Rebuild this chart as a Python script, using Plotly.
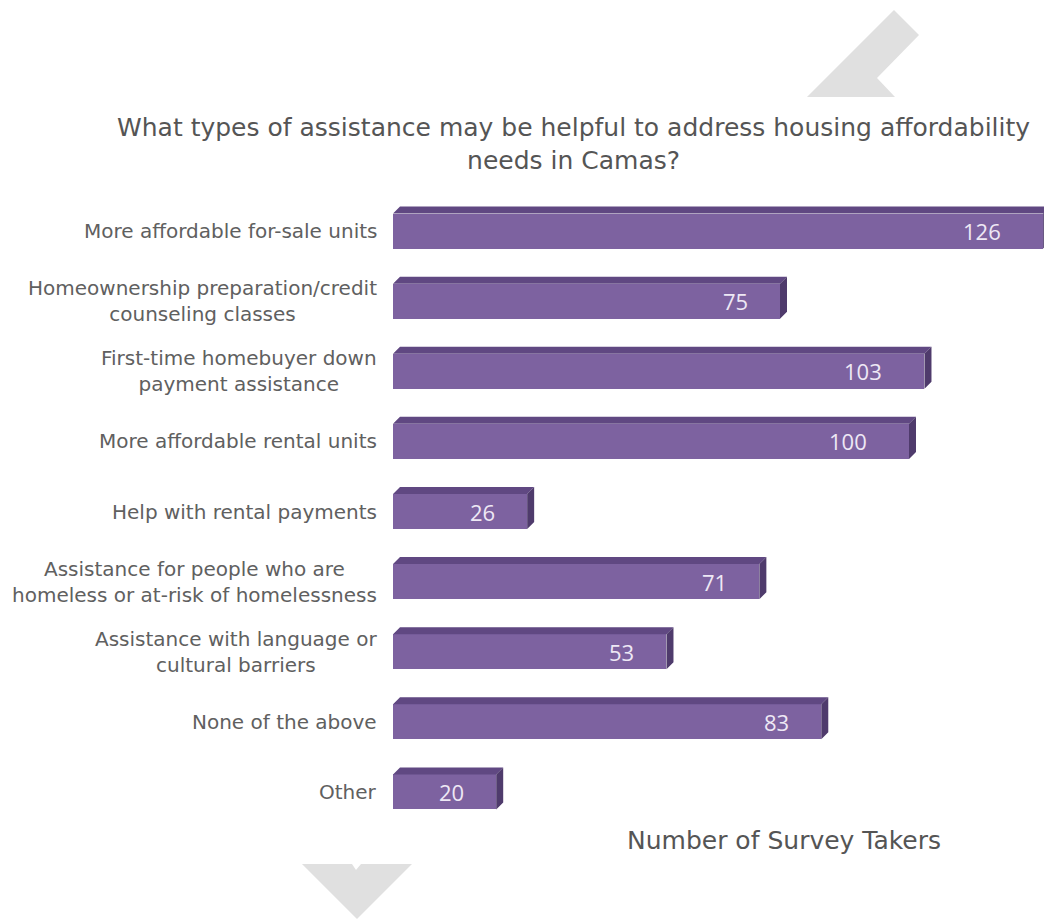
import plotly.graph_objects as go

categories = [
    "More affordable for-sale units",
    "Homeownership preparation/credit<br>counseling classes",
    "First-time homebuyer down<br>payment assistance",
    "More affordable rental units",
    "Help with rental payments",
    "Assistance for people who are<br>homeless or at-risk of homelessness",
    "Assistance with language or<br>cultural barriers",
    "None of the above",
    "Other",
]
values = [126, 75, 103, 100, 26, 71, 53, 83, 20]
title_text = "What types of assistance may be helpful to address housing affordability<br>needs in Camas?"
xaxis_title = "Number of Survey Takers"

OFF = 8  # page body margin offset
W, H = 1052 - OFF, 919 - OFF
ML, MR, MT, MB = 393 - OFF, 0, 189 - OFF, 85
PW, PH = W - ML - MR, H - MT - MB
XMAX = PW / 5.16
n = len(categories)
YR = [n - 0.4, -0.6]

FRONT = "#7d62a0"
TOP = "#604882"
SIDE = "#4f3b6c"
FONT = "DejaVu Sans"
NUMFONT = "Open Sans"

def px_x(p):
    return (p - OFF - ML) / PW

def px_y(p):
    return (H - MB - (p - OFF)) / PH

h = 0.25
dxu = 7 / (PW / XMAX)
dyu = 7 / (PH / (YR[0] - YR[1]))

ys = list(range(n))

fig = go.Figure()
fig.add_trace(go.Bar(
    x=values, y=ys, orientation="h", width=2 * h,
    marker=dict(color=FRONT, line=dict(width=0)), hoverinfo="x",
))

tx, ty, sx, sy = [], [], [], []
for i, v in zip(ys, values):
    tx += [0, dxu, v + dxu, v, 0, None]
    ty += [i - h, i - h - dyu, i - h - dyu, i - h, i - h, None]
    sx += [v, v + dxu, v + dxu, v, v, None]
    sy += [i - h, i - h - dyu, i + h - dyu, i + h, i - h, None]
fig.add_trace(go.Scatter(x=tx, y=ty, fill="toself", mode="lines",
                         line=dict(width=0, color=TOP), fillcolor=TOP, hoverinfo="skip"))
fig.add_trace(go.Scatter(x=sx, y=sy, fill="toself", mode="lines",
                         line=dict(width=0, color=SIDE), fillcolor=SIDE, hoverinfo="skip"))

annotations = []
for i, (c, v) in enumerate(zip(categories, values)):
    annotations.append(dict(
        x=px_x(379), xref="paper", y=i, yref="y", text=c, showarrow=False,
        xanchor="right", yanchor="middle", align="center",
        font=dict(family=FONT, size=20, color="#606060"),
    ))
    s = str(v)
    annotations.append(dict(
        x=v, xref="x", y=i, yref="y", text=s, showarrow=False,
        xanchor="right", yanchor="middle", xshift=-30 - 10 * (len(s) - 2),
        font=dict(family=NUMFONT, size=22, color="#eee8f5"),
    ))

annotations.append(dict(
    x=px_x(573), xref="paper", y=px_y(144), yref="paper", text=title_text,
    showarrow=False, xanchor="center", yanchor="middle", align="center",
    font=dict(family=FONT, size=25, color="#555555"),
))
annotations.append(dict(
    x=px_x(784), xref="paper", y=px_y(840), yref="paper", text=xaxis_title,
    showarrow=False, xanchor="center", yanchor="middle",
    font=dict(family=FONT, size=25, color="#555555"),
))

def poly(pts):
    d = "M " + " L ".join(f"{px_x(a):.5f},{px_y(b):.5f}" for a, b in pts) + " Z"
    return dict(type="path", xref="paper", yref="paper", path=d,
                fillcolor="#e0e0e0", line=dict(width=0), layer="below")

shapes = [
    poly([(894, 10), (919, 35), (877, 78), (895, 97), (807, 97)]),
    poly([(302, 864), (352, 864), (356, 870), (361, 864), (412, 864), (357, 919)]),
]

fig.update_layout(
    width=W, height=H,
    margin=dict(l=ML, r=MR, t=MT, b=MB),
    paper_bgcolor="white", plot_bgcolor="white",
    showlegend=False,
    xaxis=dict(range=[0, XMAX], visible=False, fixedrange=True),
    yaxis=dict(range=YR, visible=False, fixedrange=True),
    annotations=annotations, shapes=shapes,
    bargap=0,
)

fig.write_html("out.html")
